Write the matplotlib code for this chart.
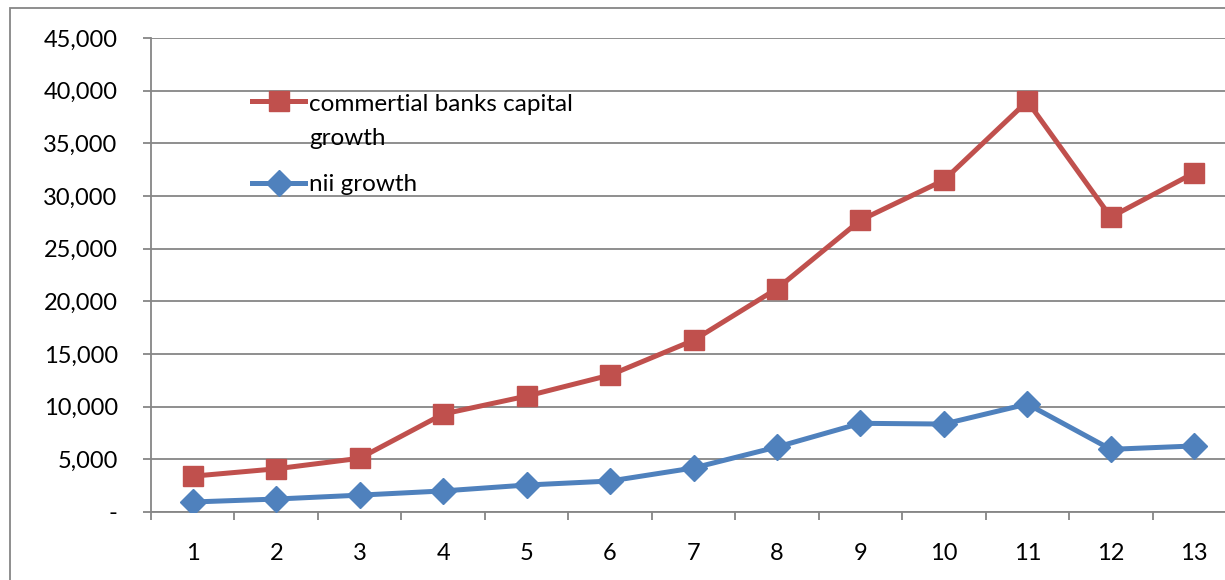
import matplotlib
matplotlib.use("Agg")
import matplotlib.pyplot as plt
from matplotlib.ticker import FuncFormatter, FixedLocator
from matplotlib.patches import Rectangle
from matplotlib.legend_handler import HandlerLine2D
import numpy as np

plt.rcParams['font.family'] = ['Lato', 'DejaVu Sans']

# period index 1..13
periods = list(range(1, 14))
# capital growth of commercial banks
bank_capital = [3400, 4100, 5100, 9300, 11000, 13000, 16300, 21200, 27700, 31500, 39000, 28000, 32200]
# nii growth
nii = [950, 1230, 1600, 2000, 2560, 2940, 4180, 6170, 8420, 8350, 10250, 5950, 6270]

red = '#C0504D'
blue = '#4F81BD'
grey = '#868686'


class RaisedLine(HandlerLine2D):
    """legend handle sitting on the first line of a two-line label"""
    def __init__(self, lift, **kw):
        super().__init__(**kw)
        self.lift = lift

    def create_artists(self, legend, orig_handle, xdescent, ydescent,
                       width, height, fontsize, trans):
        return super().create_artists(legend, orig_handle, xdescent,
                                      ydescent - self.lift, width, height,
                                      fontsize, trans)


fig = plt.figure(figsize=(12.25, 5.8), dpi=100)
# axes runs a little past the right edge of the canvas
ax = fig.add_axes([151/1225, 1 - 512/580, 1085/1225, 474/580])

l1, = ax.plot(periods, bank_capital, color=red, lw=3.6, marker='s', ms=14,
              label='commertial banks capital\ngrowth', zorder=3)
l2, = ax.plot(periods, nii, color=blue, lw=3.6, marker='D', ms=13,
              label='nii growth', zorder=3)

ax.set_xlim(0.5, 13.5)
ax.set_ylim(0, 45000)
ax.set_yticks(np.arange(0, 45001, 5000))
ax.yaxis.set_major_formatter(FuncFormatter(lambda v, p: '-' if v == 0 else f'{int(v):,}'))
ax.set_xticks(periods)
ax.xaxis.set_minor_locator(FixedLocator(np.arange(0.5, 13.6, 1)))

ax.grid(axis='y', color=grey, lw=1.3)
ax.set_axisbelow(True)
for s in ['top', 'right']:
    ax.spines[s].set_visible(False)
for s in ['left', 'bottom']:
    ax.spines[s].set_color(grey)
    ax.spines[s].set_linewidth(1.3)

ax.tick_params(axis='y', length=6, width=1.3, color=grey, pad=18, labelsize=17)
ax.tick_params(axis='x', which='major', length=0, pad=22, labelsize=17)
ax.tick_params(axis='x', which='minor', length=6, width=1.3, color=grey)

leg = ax.legend(loc='upper left', bbox_to_anchor=(252/1225, 1 - 94/580),
                bbox_transform=fig.transFigure, frameon=False, fontsize=17.5,
                handlelength=2.2, handletextpad=0.15, labelspacing=1.05,
                borderpad=0, borderaxespad=0,
                handler_map={l1: RaisedLine(lift=30)})
for t in leg.get_texts():
    t.set_linespacing(1.75)

# chart border
fig.patches.append(Rectangle((10/1225, -0.1), 1.2, 1 - 8/580 + 0.1,
                             transform=fig.transFigure, fill=False,
                             edgecolor=grey, lw=1.3))

fig.savefig('out.png', dpi=100)
